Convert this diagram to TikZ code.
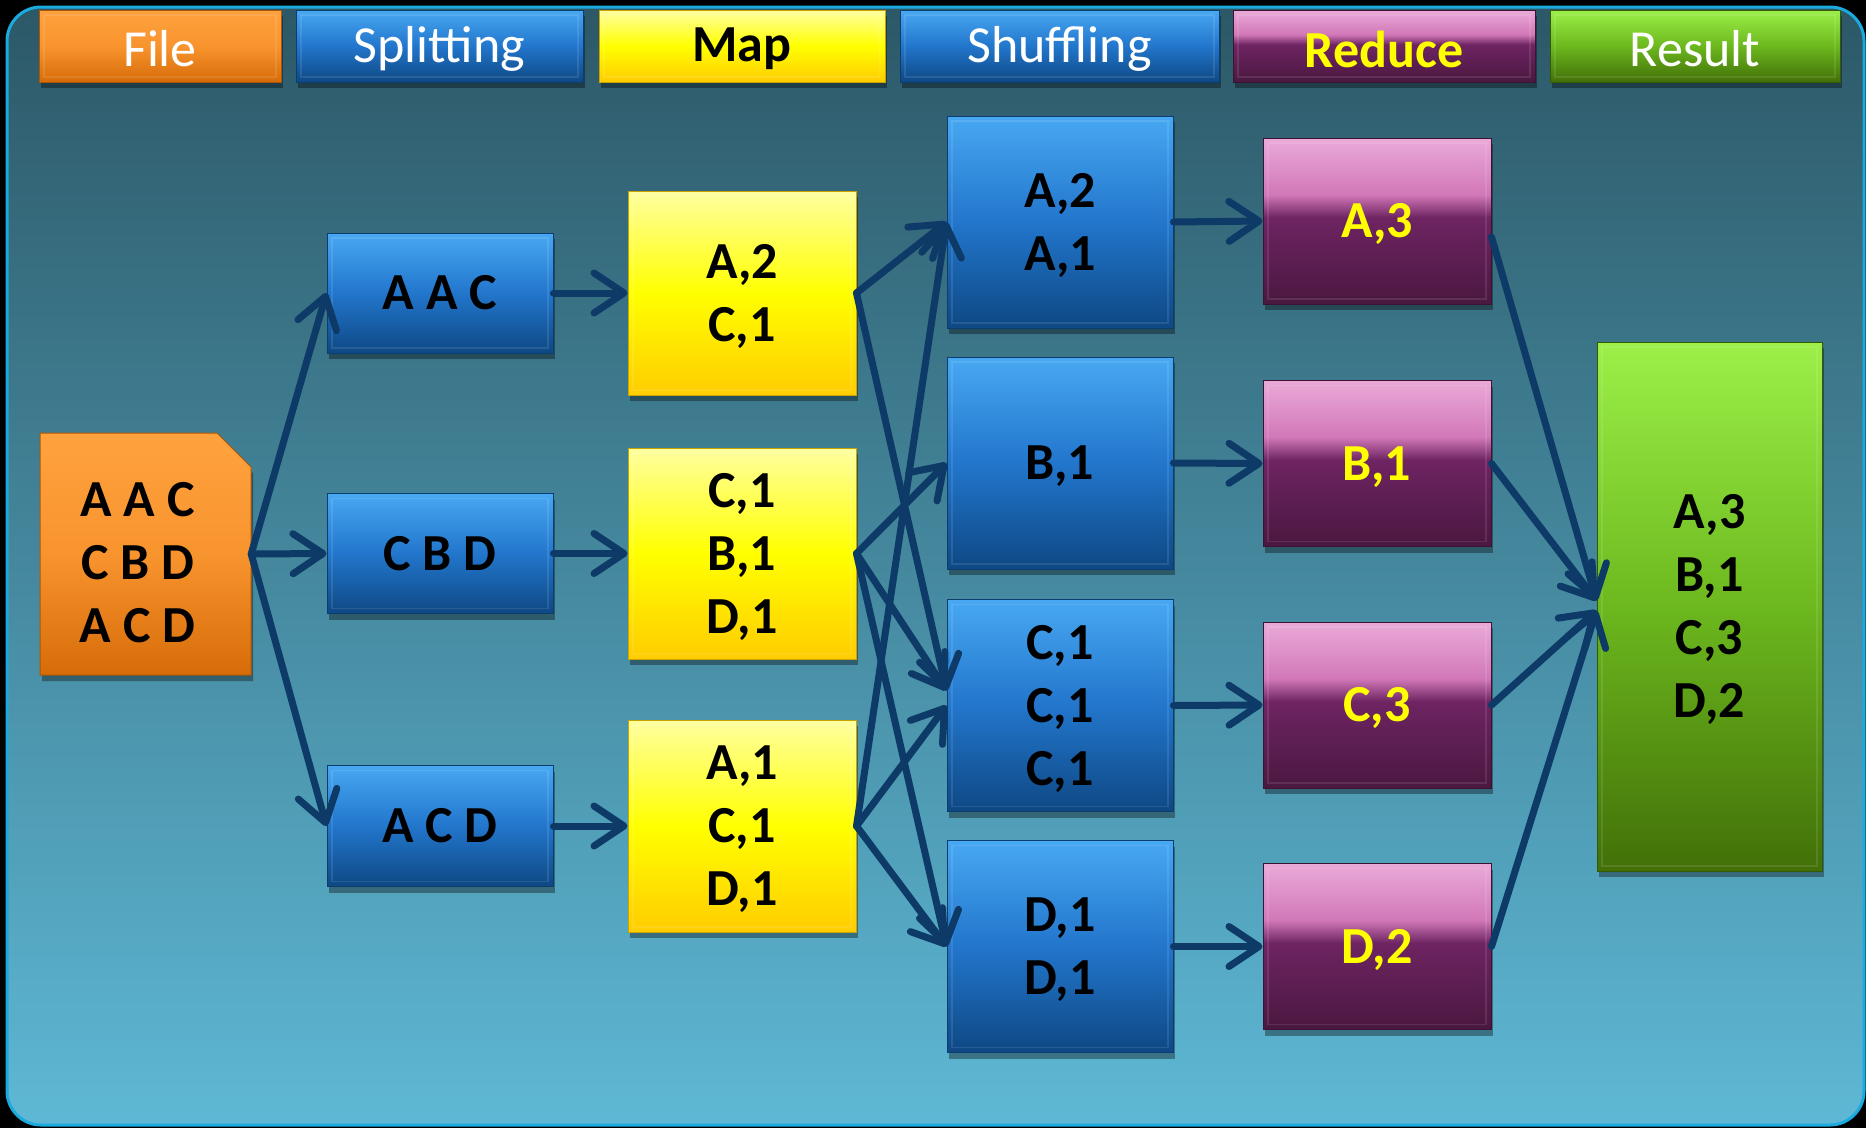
\documentclass[tikz,border=0pt]{standalone}
\usepackage{fontspec}
\setmainfont{Carlito}
\usetikzlibrary{arrows.meta,shadows,calc}
\definecolor{bgtop}{RGB}{44,88,103}
\definecolor{bgbot}{RGB}{94,184,213}
\definecolor{bgline}{RGB}{27,170,222}
\definecolor{bltop}{RGB}{72,168,242}
\definecolor{blmid}{RGB}{34,118,204}
\definecolor{blbot}{RGB}{14,72,132}
\definecolor{yetop}{RGB}{255,255,160}
\definecolor{yemid}{RGB}{255,255,0}
\definecolor{yebot}{RGB}{255,204,0}
\definecolor{ortop}{RGB}{255,162,62}
\definecolor{ormid}{RGB}{248,148,46}
\definecolor{orbot}{RGB}{214,108,8}
\definecolor{grtop}{RGB}{156,240,72}
\definecolor{grmid}{RGB}{108,184,30}
\definecolor{grbot}{RGB}{66,112,8}
\definecolor{rdlight}{RGB}{234,170,216}
\definecolor{rdpink}{RGB}{210,120,184}
\definecolor{rdpurple}{RGB}{110,36,98}
\definecolor{rddark}{RGB}{74,24,64}
\definecolor{arrowc}{RGB}{14,58,104}
\definecolor{redtxt}{RGB}{255,255,0}
\pgfdeclareverticalshading{redshade}{100bp}{color(0bp)=(rddark); color(25bp)=(rddark); color(51bp)=(rdpurple); color(58bp)=(rdpink); color(75bp)=(rdlight); color(100bp)=(rdlight)}
\newcommand{\boxtxt}[1]{\raisebox{-4pt}[\height][\depth]{\begin{tabular}{@{}c@{}}#1\end{tabular}}}
\newcommand{\headtxt}[1]{\raisebox{-3pt}[\height][\depth]{#1}}
\begin{document}
\begin{tikzpicture}[x=1pt,y=-1pt,
  box/.style={rectangle, inner sep=0pt, align=center, line width=1pt,
    drop shadow={shadow xshift=2pt,shadow yshift=-6pt,fill=black,opacity=.35},
    path picture={\draw[white,opacity=.1,line width=1.5pt]
      ([shift={(5pt,-5pt)}]path picture bounding box.north west) rectangle
      ([shift={(-5pt,5pt)}]path picture bounding box.south east);}},
  bluebox/.style={box, top color=bltop, bottom color=blbot, middle color=blmid, draw=blbot!85!black},
  yellowbox/.style={box, top color=yetop, bottom color=yebot, middle color=yemid, draw=yebot!80!black},
  orangebox/.style={box, top color=ortop, bottom color=orbot, middle color=ormid, draw=orbot!80!black},
  greenbox/.style={box, top color=grtop, bottom color=grbot, middle color=grmid, draw=grbot!80!black},
  purplebox/.style={box, shading=redshade, draw=rddark!80!black},
  head/.style={minimum height=72, font=\fontsize{52}{60}\selectfont, text=white},
  body/.style={font=\fontsize{52}{63}\selectfont\bfseries, text=black},
  splitbox/.style={bluebox, body, minimum width=226},
  mapbox/.style={yellowbox, body, minimum width=228},
  shufbox/.style={bluebox, body, minimum width=226, minimum height=212},
  redbox/.style={purplebox, body, text=redtxt, minimum width=228, minimum height=166},
  flow/.style={draw=arrowc, line width=7pt, line cap=round,
    -{Straight Barb[length=30pt,width=40pt,round]}}
]
\useasboundingbox (0,0) rectangle (1866,1128);
\fill[black] (0,0) rectangle (1866,1128);
\shade[top color=bgtop, bottom color=bgbot, draw=bgline, line width=3pt, rounded corners=34pt]
  (7,7) rectangle (1864,1125);

% header
\node[orangebox, head, minimum width=242] (hfile) at (160,46) {\headtxt{File}};
\node[bluebox, head, minimum width=287] (hsplit) at (439.5,46) {\headtxt{Splitting}};
\node[yellowbox, head, minimum width=286, text=black, font=\fontsize{52}{60}\selectfont\bfseries] (hmap) at (742,46) {\headtxt{Map}};
\node[bluebox, head, minimum width=319] (hshuf) at (1059.5,46) {\headtxt{Shuffling}};
\node[purplebox, head, minimum width=302, text=redtxt, font=\fontsize{52}{60}\selectfont\bfseries] (hred) at (1384,46) {\headtxt{Reduce}};
\node[greenbox, head, minimum width=290] (hres) at (1695,46) {\headtxt{Result}};

% file
\shade[top color=ortop, bottom color=orbot, middle color=ormid, draw=orbot!80!black, line width=1pt,
  drop shadow={shadow xshift=2pt,shadow yshift=-6pt,fill=black,opacity=.35}]
  (40,433) -- (217,433) -- (251,467) -- (251,675) -- (40,675) -- cycle;
\node[body, minimum width=211, minimum height=242, inner sep=0pt] (file) at (145.5,554)
  {\hspace*{-16pt}\raisebox{-13pt}[\height][\depth]{\begin{tabular}{@{}c@{}}A A C\\C B D\\A C D\end{tabular}}};

% splitting
\node[splitbox, minimum height=120] (s1) at (440,293) {\boxtxt{A A C}};
\node[splitbox, minimum height=120] (s2) at (440,553.5) {\boxtxt{C B D}};
\node[splitbox, minimum height=121] (s3) at (440,826) {\boxtxt{A C D}};

% map
\node[mapbox, minimum height=204] (m1) at (742,293) {\boxtxt{A,2\\C,1}};
\node[mapbox, minimum height=211] (m2) at (742,553.5) {\boxtxt{C,1\\B,1\\D,1}};
\node[mapbox, minimum height=212] (m3) at (742,826) {\boxtxt{A,1\\C,1\\D,1}};

% shuffling
\node[shufbox] (h1) at (1060,222) {\boxtxt{A,2\\A,1}};
\node[shufbox] (h2) at (1060,463) {\boxtxt{B,1}};
\node[shufbox] (h3) at (1060,705.5) {\boxtxt{C,1\\C,1\\C,1}};
\node[shufbox] (h4) at (1060,946.5) {\boxtxt{D,1\\D,1}};

% reduce
\node[redbox] (r1) at (1377,221) {\boxtxt{A,3}};
\node[redbox] (r2) at (1377,463.5) {\boxtxt{B,1}};
\node[redbox] (r3) at (1377,705) {\boxtxt{C,3}};
\node[redbox] (r4) at (1377,946.5) {\boxtxt{D,2}};

% result
\node[greenbox, body, minimum width=225, minimum height=529] (res) at (1709.5,606.5) {\boxtxt{A,3\\B,1\\C,3\\D,2}};

% arrows
\draw[flow] (file.east) -- (s1.west);
\draw[flow] (file.east) -- (s2.west);
\draw[flow] (file.east) -- (s3.west);
\draw[flow] (s1.east) -- (m1.west);
\draw[flow] (s2.east) -- (m2.west);
\draw[flow] (s3.east) -- (m3.west);
\draw[flow] (m1.east) -- (h1.west);
\draw[flow] (m1.east) -- ($(h3.west)+(0,-15)$);
\draw[flow] (m2.east) -- (h2.west);
\draw[flow] (m2.east) -- ($(h3.west)+(0,-15)$);
\draw[flow] (m2.east) -- (h4.west);
\draw[flow] (m3.east) -- (h1.west);
\draw[flow] (m3.east) -- (h3.west);
\draw[flow] (m3.east) -- (h4.west);
\draw[flow] (h1.east) -- (r1.west);
\draw[flow] (h2.east) -- (r2.west);
\draw[flow] (h3.east) -- (r3.west);
\draw[flow] (h4.east) -- (r4.west);
\draw[flow] ($(r1.east)+(0,16)$) -- ($(res.west)+(0,-6)$);
\draw[flow] (r2.east) -- ($(res.west)+(0,-6)$);
\draw[flow] (r3.east) -- ($(res.west)+(0,4)$);
\draw[flow] (r4.east) -- ($(res.west)+(0,4)$);
\end{tikzpicture}
\end{document}
